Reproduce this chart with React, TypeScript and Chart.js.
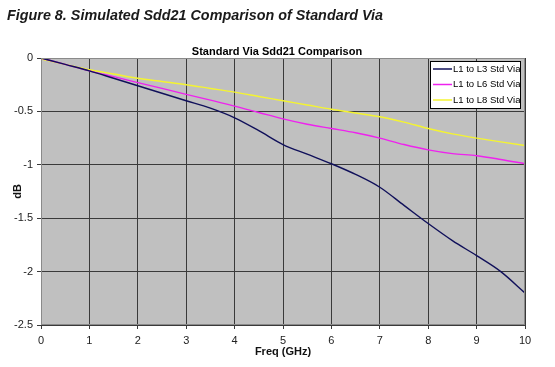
import React, { useEffect, useRef } from "react";
import { Chart, registerables } from "chart.js";

Chart.register(...registerables);

const freq = [0, 0.5, 1, 1.5, 2, 2.5, 3, 3.5, 4, 4.5, 5, 5.5, 6, 6.5, 7, 7.5, 8, 8.5, 9, 9.5, 10];
const l3 = [0, -0.06, -0.12, -0.19, -0.26, -0.33, -0.40, -0.47, -0.56, -0.68, -0.81, -0.9, -0.99, -1.09, -1.21, -1.38, -1.55, -1.71, -1.85, -2.0, -2.2];
const l6 = [0, -0.06, -0.12, -0.175, -0.23, -0.285, -0.34, -0.395, -0.45, -0.51, -0.57, -0.62, -0.66, -0.7, -0.75, -0.81, -0.86, -0.895, -0.915, -0.95, -0.99];
const l8 = [-0.01, -0.06, -0.11, -0.15, -0.19, -0.22, -0.25, -0.285, -0.32, -0.36, -0.40, -0.44, -0.48, -0.515, -0.55, -0.6, -0.66, -0.71, -0.75, -0.785, -0.82];

const seriesNames = ["L1 to L3 Std Via", "L1 to L6 Std Via", "L1 to L8 Std Via"];
const seriesColors = ["#10105a", "#ee22ee", "#f4f430"];
const caption = "Figure 8. Simulated Sdd21 Comparison of Standard Via";
const chartTitle = "Standard Via Sdd21 Comparison";
const xTitle = "Freq (GHz)";
const yTitle = "dB";

const decorPlugin = {
  id: "decor",
  beforeDraw(chart: any) {
    const { ctx, chartArea } = chart;
    ctx.save();
    ctx.fillStyle = "#ffffff";
    ctx.fillRect(0, 0, chart.width, chart.height);
    ctx.fillStyle = "#c0c0c0";
    ctx.fillRect(chartArea.left, chartArea.top, chartArea.right - chartArea.left, chartArea.bottom - chartArea.top);
    ctx.restore();
  },
  afterDraw(chart: any) {
    const { ctx, chartArea } = chart;
    ctx.save();
    ctx.strokeStyle = "#8a8a8a";
    ctx.lineWidth = 1;
    ctx.strokeRect(chartArea.left + 0.5, chartArea.top + 0.5, chartArea.right - chartArea.left - 1, chartArea.bottom - chartArea.top - 1);
    // caption
    ctx.font = "italic bold 15px 'Liberation Sans', Arial, sans-serif";
    ctx.fillStyle = "#1a1a1a";
    ctx.textBaseline = "alphabetic";
    ctx.textAlign = "left";
    const w = ctx.measureText(caption).width;
    const target = 376;
    ctx.save();
    ctx.translate(7, 20);
    ctx.scale(target / w, 1);
    ctx.fillText(caption, 0, 0);
    ctx.restore();
    // chart title
    ctx.font = "bold 11px 'Liberation Sans', Arial, sans-serif";
    ctx.fillStyle = "#000";
    ctx.textAlign = "center";
    ctx.fillText(chartTitle, 277, 55);
    // legend
    const bx = 430, by = 61, bw = 91, bh = 48;
    ctx.fillStyle = "#ffffff";
    ctx.fillRect(bx, by, bw, bh);
    ctx.strokeStyle = "#000";
    ctx.lineWidth = 1;
    ctx.strokeRect(bx + 0.5, by + 0.5, bw - 1, bh - 1);
    ctx.font = "9.5px 'Liberation Sans', Arial, sans-serif";
    ctx.textAlign = "left";
    ctx.textBaseline = "middle";
    chart.data.datasets.forEach((ds: any, i: number) => {
      const yy = 69 + i * 15.5;
      ctx.strokeStyle = ds.borderColor;
      ctx.lineWidth = 1.5;
      ctx.beginPath();
      ctx.moveTo(433, yy);
      ctx.lineTo(452, yy);
      ctx.stroke();
      ctx.fillStyle = "#000";
      ctx.fillText(ds.label, 453, yy);
    });
    ctx.restore();
  },
};

export default function App() {
  const ref = useRef<HTMLCanvasElement | null>(null);
  useEffect(() => {
    if (!ref.current) return;
    const mk = (arr: number[]) => freq.map((f, i) => ({ x: f, y: arr[i] }));
    const all = [l3, l6, l8];
    const chart = new Chart(ref.current, {
      type: "line",
      data: {
        datasets: all.map((arr, i) => ({
          label: seriesNames[i],
          data: mk(arr),
          borderColor: seriesColors[i],
          backgroundColor: seriesColors[i],
          borderWidth: 1.4,
          pointRadius: 0,
          cubicInterpolationMode: "monotone" as const,
          fill: false,
        })),
      },
      options: {
        animation: false,
        responsive: false,
        layout: { padding: { top: 58, right: 30, left: 0, bottom: 0 } },
        plugins: { legend: { display: false }, title: { display: false }, tooltip: { enabled: false } },
        scales: {
          x: {
            type: "linear",
            min: 0,
            max: 10,
            afterFit: (s: any) => { s.height = 42; },
            ticks: { stepSize: 1, padding: 5, color: "#222", font: { family: "'Liberation Sans', Arial, sans-serif", size: 11 }, callback: (v: any) => String(Number(v)) },
            grid: { color: "#3a3a3a", lineWidth: 1, tickLength: 4 },
            border: { color: "#3a3a3a" },
            title: { display: true, text: xTitle, color: "#111", padding: { top: 0, bottom: 8 }, font: { family: "'Liberation Sans', Arial, sans-serif", size: 11, weight: "bold" } },
          },
          y: {
            min: -2.5,
            max: 0,
            afterFit: (s: any) => { s.width = 41; },
            ticks: { stepSize: 0.5, padding: 4, color: "#222", font: { family: "'Liberation Sans', Arial, sans-serif", size: 11 }, callback: (v: any) => String(Number(v)) },
            grid: { color: "#3a3a3a", lineWidth: 1, tickLength: 4 },
            border: { color: "#3a3a3a" },
            title: { display: true, text: yTitle, color: "#111", padding: { top: 11, bottom: 0 }, font: { family: "'Liberation Sans', Arial, sans-serif", size: 11, weight: "bold" } },
          },
        },
      },
      plugins: [decorPlugin],
    });
    return () => chart.destroy();
  }, []);
  return (
    <div style={{ position: "absolute", left: 0, top: 0, width: 555, height: 367, background: "#fff" }}>
      <canvas ref={ref} width={555} height={367} style={{ display: "block", width: 555, height: 367 }} />
    </div>
  );
}
